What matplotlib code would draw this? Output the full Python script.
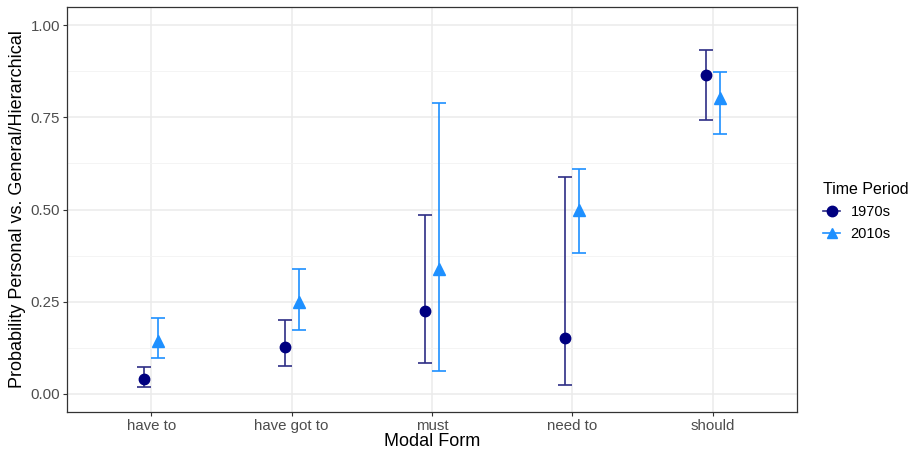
import matplotlib.pyplot as plt
from matplotlib.lines import Line2D
import numpy as np

plt.rcParams['font.family'] = ['Liberation Sans', 'DejaVu Sans']

formas = ["have to", "have got to", "must", "need to", "should"]
periodos = ["1970s", "2010s"]

prob_1970 = [0.039, 0.126, 0.225, 0.152, 0.866]
inf_1970 = [0.019, 0.075, 0.084, 0.022, 0.744]
sup_1970 = [0.071, 0.201, 0.486, 0.589, 0.934]

prob_2010 = [0.144, 0.248, 0.338, 0.498, 0.804]
inf_2010 = [0.097, 0.174, 0.062, 0.383, 0.706]
sup_2010 = [0.204, 0.339, 0.790, 0.611, 0.874]

colores = ["#000080", "#1E90FF"]
colores_barra = ["#2E2E85", "#1E90FF"]
marcadores = ["o", "^"]

fig = plt.figure(figsize=(9.13, 4.53), dpi=100)
ax = fig.add_axes([0.0734, 0.0905, 0.7996, 0.894])

x = np.arange(1, len(formas) + 1)
desplaz = [-0.05, 0.05]

series = [(prob_1970, inf_1970, sup_1970), (prob_2010, inf_2010, sup_2010)]
for i, (p, lo, hi) in enumerate(series):
    p = np.array(p)
    err = [p - np.array(lo), np.array(hi) - p]
    ax.errorbar(x + desplaz[i], p, yerr=err, fmt="none", ecolor=colores_barra[i],
                elinewidth=1.2, capsize=5, capthick=1.2, zorder=3)
    ax.plot(x + desplaz[i], p, linestyle="none", marker=marcadores[i],
            color=colores[i], markersize=7.5 if i == 0 else 8.5, zorder=4)

ax.set_xlim(0.4, 5.6)
ax.set_ylim(-0.05, 1.05)
ax.set_xticks(x)
ax.set_xticklabels(formas)
ax.set_yticks([0, 0.25, 0.5, 0.75, 1.0])
ax.set_yticklabels(["0.00", "0.25", "0.50", "0.75", "1.00"])
ax.set_yticks([0.125, 0.375, 0.625, 0.875], minor=True)

ax.grid(True, which="major", color="#EBEBEB", linewidth=1.1, zorder=0)
ax.grid(True, which="minor", axis="y", color="#F2F2F2", linewidth=0.6, zorder=0)
ax.set_axisbelow(True)
ax.tick_params(which="minor", length=0)
ax.tick_params(which="major", length=3, width=0.8, color="#333333",
               labelsize=10.8, labelcolor="#4D4D4D", pad=2)
for s in ax.spines.values():
    s.set_color("#333333")
    s.set_linewidth(0.9)

ax.set_xlabel("Modal Form", fontsize=13, labelpad=0)
ax.set_ylabel("Probability Personal vs. General/Hierarchical", fontsize=13, labelpad=3)

handles = [Line2D([0], [0], color=colores_barra[i], marker=marcadores[i],
                  markerfacecolor=colores[i], markeredgecolor=colores[i],
                  markersize=7.5, linewidth=1.2) for i in range(2)]
leg = fig.legend(handles, periodos, title="Time Period", loc="upper left",
                 bbox_to_anchor=(0.887, 0.628), frameon=False, fontsize=10.5,
                 title_fontsize=11.5, handlelength=1.2, handletextpad=0.7,
                 labelspacing=0.55)
leg._legend_box.align = "left"

fig.savefig("out.png", dpi=100)
